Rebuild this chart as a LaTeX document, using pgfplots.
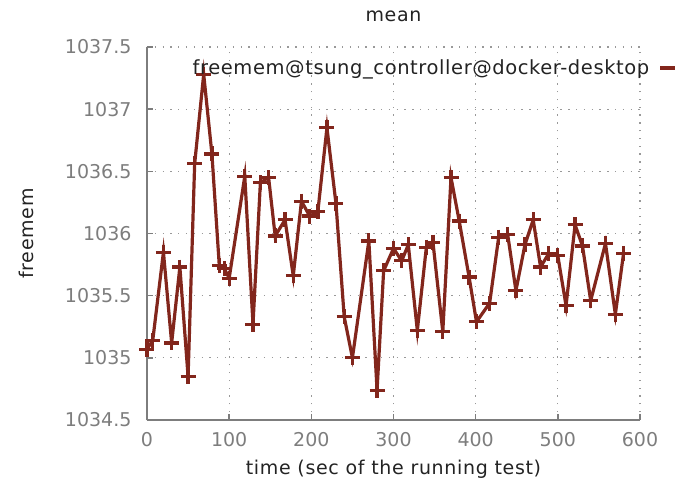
\documentclass[border=0pt]{standalone}
\usepackage{fontspec}
\setmainfont{DejaVu Sans}
\newfontfamily\lblfont[LetterSpace=3.5]{DejaVu Sans}
\newfontfamily\legfont[LetterSpace=3]{DejaVu Sans}
\usepackage{pgfplots}
\pgfplotsset{compat=1.18}
\definecolor{serie}{RGB}{130,38,28}
\definecolor{tickgray}{RGB}{125,125,125}
\definecolor{labelgray}{RGB}{35,35,35}
\begin{document}
\begin{tikzpicture}
\useasboundingbox (-147pt,-67pt) rectangle (530pt,420pt);
\begin{axis}[
  at={(0pt,0pt)}, anchor=south west, scale only axis,
  width=493pt, height=373pt,
  xmin=0, xmax=600, ymin=1034.5, ymax=1037.5,
  xtick={0,100,...,600},
  ytick={1034.5,1035,1035.5,1036,1036.5,1037,1037.5},
  axis x line=bottom, axis y line=left,
  axis line style={-, draw=tickgray, line width=1.4pt},
  tick style={draw=tickgray, line width=1.4pt},
  tick align=inside, major tick length=6pt,
  grid=major,
  major grid style={draw=gray!80, line width=1.3pt, dash pattern=on 1.3pt off 6.5pt},
  scaled y ticks=false,
  /pgf/number format/assume math mode=true,
  yticklabel style={/pgf/number format/fixed, /pgf/number format/precision=1,
    /pgf/number format/1000 sep={}, xshift=-12pt},
  xticklabel style={/pgf/number format/fixed, /pgf/number format/1000 sep={}, yshift=-9pt},
  ticklabel style={font=\fontsize{19}{19}\selectfont, text=tickgray},
  title={mean},
  title style={at={(axis description cs:0.5,1.067)}, anchor=center,
    font=\lblfont\fontsize{19}{19}\selectfont, text=labelgray},
  xlabel={time (sec of the running test)},
  xlabel style={at={(axis description cs:0.5,-0.132)}, anchor=center,
    font=\lblfont\fontsize{19}{19}\selectfont, text=labelgray},
  ylabel={freemem},
  ylabel style={at={(axis description cs:-0.245,0.5)}, anchor=center,
    font=\lblfont\fontsize{19}{19}\selectfont, text=labelgray},
  legend plot pos=right,
  legend style={at={(axis description cs:1.075,0.944)}, anchor=east,
    draw=none, fill=none, inner sep=0pt,
    nodes={inner sep=3pt},
    /tikz/every odd column/.append style={column sep=6pt},
    font=\legfont\fontsize{19.5}{19.5}\selectfont, text=labelgray},
  legend cell align=right,
  legend image code/.code={\draw[serie, line width=3.5pt] (0pt,0pt) -- (15pt,0pt);},
]
\addplot[serie, line width=3.2pt, mark=+, mark size=7.5pt,
  mark options={line width=3.2pt}] table {
x y
0 1035.07
7 1035.14
20 1035.85
30 1035.12
40 1035.73
50 1034.85
58 1036.56
69 1037.28
79 1036.64
88 1035.74
94 1035.72
100 1035.64
119 1036.46
129 1035.27
138 1036.41
148 1036.45
156 1035.98
168 1036.11
178 1035.66
188 1036.26
198 1036.14
208 1036.18
219 1036.85
230 1036.24
240 1035.33
250 1035.00
270 1035.94
280 1034.74
288 1035.70
300 1035.88
310 1035.78
318 1035.91
329 1035.22
340 1035.89
348 1035.93
360 1035.21
370 1036.45
380 1036.10
392 1035.65
401 1035.29
417 1035.44
428 1035.97
439 1035.99
449 1035.54
460 1035.91
470 1036.11
479 1035.73
489 1035.84
500 1035.82
510 1035.42
521 1036.07
530 1035.90
540 1035.46
558 1035.92
570 1035.35
580 1035.84
};
\addlegendentry{freemem@tsung\_controller@docker-desktop}
\end{axis}
\end{tikzpicture}
\end{document}
